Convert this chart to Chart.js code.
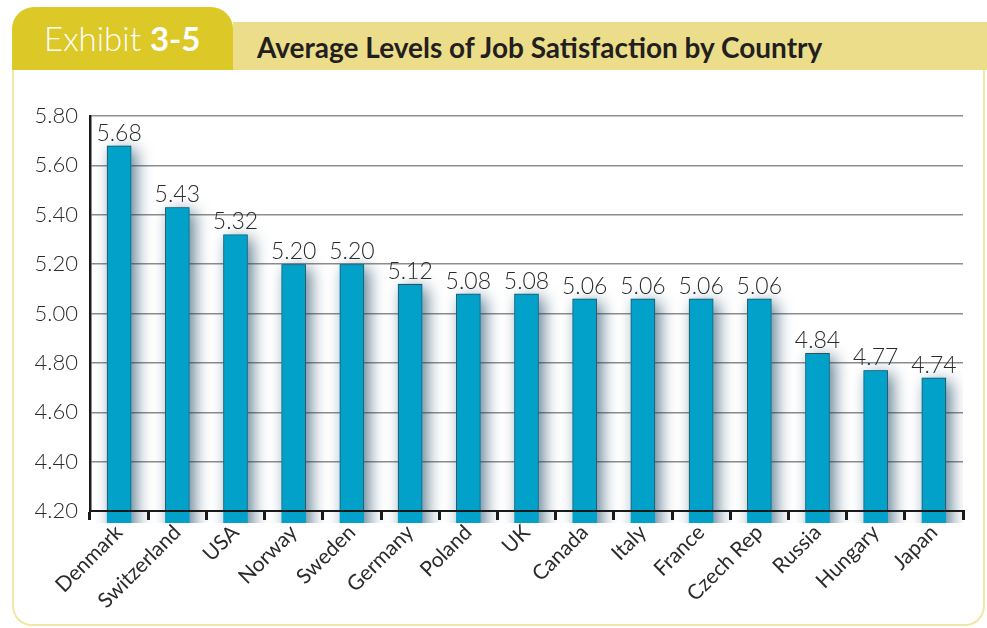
<!DOCTYPE html>
<html>
<head>
<meta charset="utf-8">
<script src="https://cdn.jsdelivr.net/npm/chart.js@4"></script>
<style>
  body { margin: 0; background: #fff; font-family: Lato, "Noto Sans", sans-serif; }
  #page { position: relative; width: 987px; height: 628px; overflow: hidden; }
  #tab {
    position: absolute; left: 12px; top: 7px; width: 221px; height: 63px;
    background: #dcc826; border-radius: 22px 22px 0 0;
    color: #fff; font-size: 33px; font-weight: 300; line-height: 62px;
    box-sizing: border-box; padding-left: 32px;
  }
  #tab b { font-weight: 700; }
  #band {
    position: absolute; left: 233px; top: 22px; right: 0; height: 48px;
    background: #ebdd8a; color: #231f20; font-weight: 700; font-size: 28px;
    line-height: 50px; padding-left: 24px;
  }
  #panel {
    position: absolute; left: 12px; top: 70px; width: 973px; height: 556px;
    box-sizing: border-box; border: 2px solid #f1e6a6; border-top: none;
    border-radius: 0 0 20px 20px;
  }
  #wrap { position: absolute; left: 14px; top: 72px; width: 969px; height: 552px; }
</style>
</head>
<body>
<div id="page">
  <div id="tab">Exhibit <b>3-5</b></div>
  <div id="band">Average Levels of Job Satisfaction by Country</div>
  <div id="panel"></div>
  <div id="wrap"><canvas id="myChart"></canvas></div>
</div>
<script>
// countries and their average job satisfaction scores
var countries = ['Denmark', 'Switzerland', 'USA', 'Norway', 'Sweden', 'Germany', 'Poland', 'UK',
                 'Canada', 'Italy', 'France', 'Czech Rep', 'Russia', 'Hungary', 'Japan'];
var scores = [5.68, 5.43, 5.32, 5.20, 5.20, 5.12, 5.08, 5.08, 5.06, 5.06, 5.06, 5.06, 4.84, 4.77, 4.74];
var yMin = 4.2, yMax = 5.8, yStep = 0.2;

var textColor = '#2b2b2b';
var labelFont = 'Lato, "Noto Sans", sans-serif';

// soft shadow behind the bars (bar elements clip their own drawing,
// so the shadow is painted underneath them first)
var barShadow = {
  id: 'barShadow',
  beforeDatasetsDraw: function (chart) {
    var ctx = chart.ctx;
    var area = chart.chartArea;
    ctx.save();
    ctx.beginPath();
    ctx.rect(area.left, area.top, area.right - area.left, area.bottom - area.top + 12);
    ctx.clip();
    ctx.shadowColor = 'rgba(15, 60, 90, 0.65)';
    ctx.shadowBlur = 16;
    ctx.shadowOffsetX = 5;
    ctx.shadowOffsetY = 4;
    ctx.fillStyle = '#01a1ca';
    chart.getDatasetMeta(0).data.forEach(function (bar) {
      var p = bar.getProps(['x', 'y', 'base', 'width']);
      ctx.fillRect(p.x - p.width / 2, p.y, p.width, p.base - p.y);
    });
    ctx.restore();
  }
};

// value printed over each bar
var valueLabels = {
  id: 'valueLabels',
  afterDraw: function (chart) {
    var ctx = chart.ctx;
    var meta = chart.getDatasetMeta(0);
    ctx.save();
    ctx.font = '300 23px ' + labelFont;
    ctx.fillStyle = textColor;
    ctx.textAlign = 'center';
    ctx.textBaseline = 'bottom';
    meta.data.forEach(function (bar, i) {
      ctx.fillText(scores[i].toFixed(2), bar.x, bar.y - 1);
    });
    ctx.restore();
  }
};

var myChart = new Chart(document.getElementById('myChart'), {
  type: 'bar',
  data: {
    labels: countries,
    datasets: [{
      data: scores,
      backgroundColor: '#01a1ca',
      borderColor: '#34505c',
      borderWidth: 1,
      barPercentage: 0.42,
      categoryPercentage: 1
    }]
  },
  options: {
    responsive: true,
    maintainAspectRatio: false,
    animation: false,
    layout: { padding: { left: 0, top: 44, right: 20, bottom: 0 } },
    plugins: {
      legend: { display: false },
      tooltip: { enabled: false }
    },
    scales: {
      x: {
        afterFit: function (scale) { scale.height = 113; },
        border: { color: '#1a1a1a', width: 2, z: 1 },
        grid: {
          offset: true,
          drawOnChartArea: false,
          color: '#1a1a1a',
          lineWidth: 3,
          tickLength: 9,
          z: 1
        },
        ticks: {
          minRotation: 45,
          maxRotation: 45,
          padding: 0,
          color: textColor,
          font: { family: labelFont, size: 21, weight: 400 }
        }
      },
      y: {
        min: yMin,
        max: yMax,
        afterFit: function (scale) { scale.width = 76; },
        border: { color: '#1a1a1a', width: 2.5 },
        grid: { color: '#8d8d8d', lineWidth: 1.5, tickLength: 0 },
        ticks: {
          stepSize: yStep,
          padding: 12,
          color: textColor,
          font: { family: labelFont, size: 22, weight: 300 },
          callback: function (v) { return v.toFixed(2); }
        }
      }
    }
  },
  plugins: [barShadow, valueLabels]
});
</script>
</body>
</html>
